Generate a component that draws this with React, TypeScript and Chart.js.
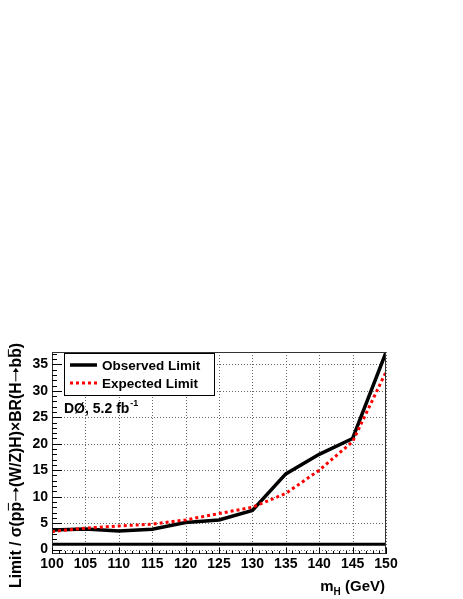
import React, { useEffect, useRef } from "react";
import { Chart, registerables } from "chart.js";

Chart.register(...registerables);

// ---- data ----
const massPoints = [100, 105, 110, 115, 120, 125, 130, 135, 140, 145, 150];
const observedLimit = [3.7, 3.9, 3.5, 3.85, 5.1, 5.6, 7.4, 14.3, 18.0, 21.0, 37.3];
const expectedLimit = [3.4, 4.05, 4.45, 4.8, 5.6, 6.8, 8.0, 10.6, 15.0, 20.4, 33.6];
const referenceMass = [100, 150];
const referenceLevel = [1, 1];

const xTickValues = [100, 105, 110, 115, 120, 125, 130, 135, 140, 145, 150];
const yTickValues = [0, 5, 10, 15, 20, 25, 30, 35];
const xRange = [100, 150];
const yRange = [-0.85, 37.36];
const xMinorStep = 1;
const yMinorStep = 1;

const seriesLabels = ["Observed Limit", "Expected Limit"];
const experimentText = "DØ, 5.2 fb";
const experimentSup = "-1";
const yTitleText = "Limit / σ(pp→(W/Z)H)×BR(H→bb)";
const yTitleOverlined = [11, 27]; // indexes of the barred p and b
const xTitleMain = "m";
const xTitleSub = "H";
const xTitleRest = " (GeV)";

const FONT = "'Liberation Sans', Arial, Helvetica, sans-serif";

function drawYTitle(ctx: CanvasRenderingContext2D) {
  const chars = Array.from(yTitleText);
  const measure = (size: number) => {
    ctx.font = `bold ${size}px ${FONT}`;
    let w = 0;
    for (const c of chars) w += c === "→" ? size * 0.95 : ctx.measureText(c).width;
    return w;
  };
  const fs = 15 * 245 / measure(15);
  const W = measure(fs);
  ctx.save();
  ctx.translate(21, 343);
  ctx.rotate(-Math.PI / 2);
  ctx.font = `bold ${fs}px ${FONT}`;
  ctx.textAlign = "left";
  ctx.textBaseline = "alphabetic";
  ctx.fillStyle = "#000";
  ctx.strokeStyle = "#000";
  let x = -W;
  chars.forEach((c, i) => {
    if (c === "→") {
      const aw = fs * 0.95;
      const ay = -fs * 0.33;
      ctx.lineWidth = 1;
      ctx.beginPath();
      ctx.moveTo(x + 1, ay);
      ctx.lineTo(x + aw - 1, ay);
      ctx.stroke();
      ctx.beginPath();
      ctx.moveTo(x + aw - 0.5, ay);
      ctx.lineTo(x + aw - 4.5, ay - 3);
      ctx.lineTo(x + aw - 4.5, ay + 3);
      ctx.closePath();
      ctx.fill();
      x += aw;
    } else {
      const cw = ctx.measureText(c).width;
      ctx.fillText(c, x, 0);
      if (yTitleOverlined.includes(i)) {
        const oy = -fs * 0.8;
        ctx.lineWidth = 1;
        ctx.beginPath();
        ctx.moveTo(x + 1, oy);
        ctx.lineTo(x + cw - 1, oy);
        ctx.stroke();
      }
      x += cw;
    }
  });
  ctx.restore();
}

const decorPlugin = {
  id: "rootDecor",
  beforeDatasetsDraw(chart: any) {
    const { ctx, chartArea: a, scales } = chart;
    const xs = scales.x;
    const ys = scales.y;
    ctx.save();
    ctx.strokeStyle = "#666";
    ctx.lineWidth = 1;
    ctx.setLineDash([1, 2]);
    for (const v of xTickValues) {
      const px = Math.round(xs.getPixelForValue(v)) + 0.5;
      ctx.beginPath();
      ctx.moveTo(px, a.top);
      ctx.lineTo(px, a.bottom);
      ctx.stroke();
    }
    for (const v of yTickValues) {
      const py = Math.round(ys.getPixelForValue(v)) + 0.5;
      ctx.beginPath();
      ctx.moveTo(a.left, py);
      ctx.lineTo(a.right, py);
      ctx.stroke();
    }
    ctx.restore();
  },
  afterDatasetsDraw(chart: any) {
    const { ctx, chartArea: a, scales } = chart;
    const xs = scales.x;
    const ys = scales.y;
    ctx.save();
    ctx.setLineDash([]);
    // frame
    ctx.strokeStyle = "#333";
    ctx.lineWidth = 1;
    ctx.strokeRect(a.left + 0.5, a.top + 0.5, a.right - a.left - 1, a.bottom - a.top - 1);
    // ticks
    ctx.strokeStyle = "#000";
    ctx.beginPath();
    for (let v = xRange[0]; v <= xRange[1] + 1e-9; v += xMinorStep) {
      const major = xTickValues.includes(v);
      const len = major ? 6 : 3;
      const px = Math.round(xs.getPixelForValue(v)) + 0.5;
      ctx.moveTo(px, a.bottom);
      ctx.lineTo(px, a.bottom - len);
    }
    for (let v = Math.ceil(yRange[0]); v <= yRange[1]; v += yMinorStep) {
      const major = yTickValues.includes(v);
      const len = major ? 10 : 5;
      const py = Math.round(ys.getPixelForValue(v)) + 0.5;
      ctx.moveTo(a.left, py);
      ctx.lineTo(a.left + len, py);
    }
    ctx.stroke();

    // legend
    const ds = chart.data.datasets;
    const lx = 64, ly = 353, lw = 150, lh = 42;
    ctx.fillStyle = "#fff";
    ctx.fillRect(lx, ly, lw, lh);
    ctx.strokeStyle = "#000";
    ctx.lineWidth = 1;
    ctx.strokeRect(lx + 0.5, ly + 0.5, lw, lh);
    const rows = [365, 383];
    for (let i = 0; i < 2; i++) {
      const d = ds[i];
      ctx.strokeStyle = d.borderColor;
      ctx.lineWidth = d.borderWidth;
      ctx.setLineDash(d.borderDash || []);
      ctx.beginPath();
      ctx.moveTo(70, rows[i]);
      ctx.lineTo(97, rows[i]);
      ctx.stroke();
      ctx.setLineDash([]);
      ctx.fillStyle = "#000";
      ctx.font = `bold 13.5px ${FONT}`;
      ctx.textAlign = "left";
      ctx.textBaseline = "middle";
      ctx.fillText(d.label, 102, rows[i] + 1);
    }

    // experiment label
    ctx.textBaseline = "alphabetic";
    ctx.font = `bold 14px ${FONT}`;
    ctx.fillText(experimentText, 64, 413);
    const ew = ctx.measureText(experimentText).width;
    ctx.font = `bold 9px ${FONT}`;
    ctx.fillText(experimentSup, 64 + ew + 1, 406);

    // x title
    ctx.font = `bold 15px ${FONT}`;
    const wm = ctx.measureText(xTitleMain).width;
    const wr = ctx.measureText(xTitleRest).width;
    ctx.font = `bold 10px ${FONT}`;
    const wh = ctx.measureText(xTitleSub).width;
    const xEnd = 385;
    const x0 = xEnd - (wm + wh + wr);
    ctx.font = `bold 15px ${FONT}`;
    ctx.fillText(xTitleMain, x0, 591);
    ctx.fillText(xTitleRest, x0 + wm + wh, 591);
    ctx.font = `bold 10px ${FONT}`;
    ctx.fillText(xTitleSub, x0 + wm, 595);

    // y title
    drawYTitle(ctx);

    ctx.restore();
  },
};

export default function App() {
  const canvasRef = useRef<HTMLCanvasElement | null>(null);

  useEffect(() => {
    const canvas = canvasRef.current;
    if (!canvas) return;
    const tickFont = { family: FONT, size: 14, weight: "bold" as const };
    const chart = new Chart(canvas, {
      type: "line",
      data: {
        datasets: [
          {
            label: seriesLabels[0],
            data: massPoints.map((m, i) => ({ x: m, y: observedLimit[i] })),
            borderColor: "#000000",
            borderWidth: 3.5,
            pointRadius: 0,
            tension: 0,
            fill: false,
            order: 1,
          },
          {
            label: seriesLabels[1],
            data: massPoints.map((m, i) => ({ x: m, y: expectedLimit[i] })),
            borderColor: "#ff0000",
            borderWidth: 3,
            borderDash: [3, 3],
            pointRadius: 0,
            tension: 0,
            fill: false,
            order: 0,
          },
          {
            label: "SM",
            data: referenceMass.map((m, i) => ({ x: m, y: referenceLevel[i] })),
            borderColor: "#000000",
            borderWidth: 3,
            pointRadius: 0,
            fill: false,
            order: 2,
          },
        ],
      },
      options: {
        responsive: false,
        animation: false,
        devicePixelRatio: 1,
        layout: { padding: { top: 352, right: 77, left: 0, bottom: 0 } },
        plugins: { legend: { display: false }, tooltip: { enabled: false } },
        scales: {
          x: {
            type: "linear",
            min: xRange[0],
            max: xRange[1],
            grid: { display: false, drawTicks: false },
            border: { display: false },
            ticks: { font: tickFont, color: "#000", padding: 2, maxRotation: 0, autoSkip: false },
            afterBuildTicks: (s: any) => {
              s.ticks = xTickValues.map((v) => ({ value: v }));
            },
            afterFit: (s: any) => {
              s.height = 45;
            },
          },
          y: {
            type: "linear",
            min: yRange[0],
            max: yRange[1],
            grid: { display: false, drawTicks: false },
            border: { display: false },
            ticks: { font: tickFont, color: "#000", padding: 4, autoSkip: false },
            afterBuildTicks: (s: any) => {
              s.ticks = yTickValues.map((v) => ({ value: v }));
            },
            afterFit: (s: any) => {
              s.width = 52;
            },
          },
        },
      } as any,
      plugins: [decorPlugin],
    });
    return () => chart.destroy();
  }, []);

  return (
    <div style={{ position: "absolute", left: 0, top: 0, width: 463, height: 599, background: "#fff" }}>
      <canvas ref={canvasRef} width={463} height={599} style={{ display: "block" }} />
    </div>
  );
}
